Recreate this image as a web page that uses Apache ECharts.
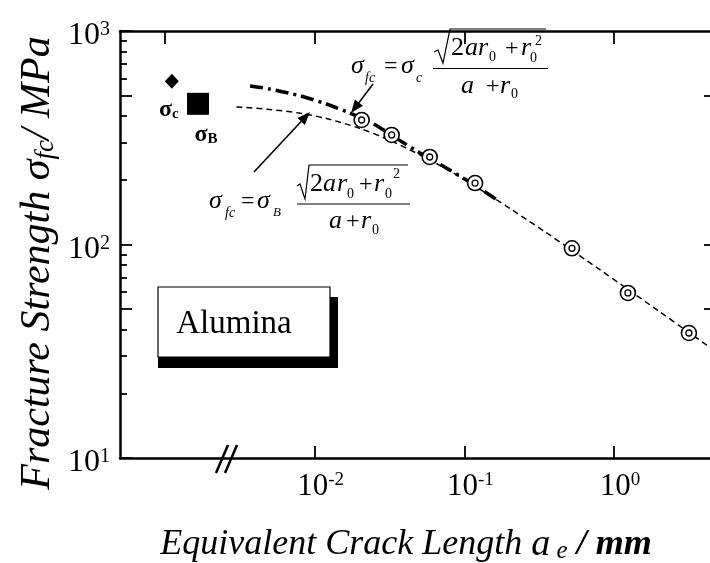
<!DOCTYPE html>
<html>
<head>
<meta charset="utf-8">
<script src="https://cdn.jsdelivr.net/npm/echarts@6/dist/echarts.min.js"></script>
<style>
html, body { margin: 0; padding: 0; background: #fff; }
#main { width: 710px; height: 563px; }
</style>
</head>
<body>
<div id="main"></div>
<script>
// measured points: equivalent crack length (mm) / fracture strength (MPa)
var crackLen = [0.0206, 0.0327, 0.0587, 0.118, 0.524, 1.24, 3.17];
var strength = [383, 326, 257, 194, 96, 59.3, 38.5];

// dashed curve (sigma_B)
var curveBLen = [0.003, 0.005, 0.008, 0.012, 0.02, 0.03, 0.05, 0.08, 0.12, 0.2, 0.35, 0.5, 0.8, 1.2, 2, 3, 4.4];
var curveBVal = [441, 429, 412, 389, 350, 313, 264, 221, 186, 148, 114, 96, 76.5, 62.6, 48.7, 39.8, 32.9];

// dash-dot curve (sigma_c)
var curveCLen = [0.0037, 0.005, 0.008, 0.012, 0.017, 0.025, 0.035, 0.05, 0.07, 0.1, 0.13, 0.17];
var curveCVal = [553, 535, 497, 455, 414, 366, 315, 270, 236, 203, 181, 160];

// intrinsic strengths, drawn left of the axis break
var sigmaC = [0.00111, 581];
var sigmaB = [0.00166, 456];

// tick values
var xLabelTicks = [0.01, 0.1, 1];
var xTopTicks = [0.001, 0.01, 0.1, 1];
var yLabelTicks = [10, 100, 1000];
var yMajorTicks = [10, 50, 100, 500, 1000];
var yMinorTicks = [20, 30, 40, 60, 70, 80, 90, 200, 300, 400, 600, 700, 800, 900];
var yRightTicks = [50, 100, 500];

var FONT = '"Liberation Serif", "Times New Roman", serif';

function pairs(xs, ys) {
    return xs.map(function (x, i) { return [x, ys[i]]; });
}

function powLabel(v) {
    return '{b|10}{s|' + Math.round(Math.log10(v)) + '}';
}

// text piece placed by its baseline
function tx(x, base, s, size, italic, weight) {
    return {
        type: 'text', x: x, y: base - size * 0.34, z: 100,
        style: {
            text: s, fontSize: size, fontFamily: FONT,
            fontStyle: italic === false ? 'normal' : 'italic',
            fontWeight: weight || 'normal',
            fill: '#000', verticalAlign: 'middle', align: 'left'
        }
    };
}

function seg(pts, w) {
    return { type: 'polyline', z: 100, shape: { points: pts }, style: { stroke: '#000', lineWidth: w || 1.2, fill: null } };
}

function arrow(x1, y1, x2, y2) {
    var dx = x2 - x1, dy = y2 - y1, L = Math.sqrt(dx * dx + dy * dy);
    var ux = dx / L, uy = dy / L, hl = 13, hw = 5;
    var bx = x2 - ux * hl, by = y2 - uy * hl;
    return [
        { type: 'line', z: 100, shape: { x1: x1, y1: y1, x2: bx, y2: by }, style: { stroke: '#000', lineWidth: 1.6 } },
        { type: 'polygon', z: 100, shape: { points: [[x2, y2], [bx - uy * hw, by + ux * hw], [bx + uy * hw, by - ux * hw]] }, style: { fill: '#000' } }
    ];
}

var graphics = [];

// formula for sigma_c (top)
graphics.push(
    tx(351, 75, 'σ', 26), tx(365, 83, 'fc', 14),
    tx(384, 75, '=', 24, false),
    tx(401, 75, 'σ', 26), tx(416, 83, 'c', 14),
    seg([[433, 68.5], [548, 68.5]]),
    seg([[434, 52], [438, 50], [443, 63], [450, 29], [546, 29]]),
    tx(451, 57, '2', 26, false), tx(465, 57, 'a', 26), tx(478, 57, 'r', 26), tx(489, 62, '0', 14, false),
    tx(505, 57, '+', 24, false), tx(521, 57, 'r', 26), tx(530, 63, '0', 14, false), tx(535, 46, '2', 14, false),
    tx(461, 95, 'a', 26), tx(486, 95, '+', 24, false), tx(500, 95, 'r', 26), tx(511, 99, '0', 14, false)
);

// formula for sigma_B (middle)
graphics.push(
    tx(209, 210, 'σ', 26), tx(225, 218, 'fc', 14),
    tx(241, 210, '=', 24, false),
    tx(257, 210, 'σ', 26), tx(273, 217, 'B', 13),
    seg([[297, 204], [410, 204]]),
    seg([[297, 186], [300, 184], [305, 199], [309, 165], [408, 165]]),
    tx(310, 193, '2', 26, false), tx(323, 193, 'a', 26), tx(337, 193, 'r', 26), tx(347, 199, '0', 14, false),
    tx(359, 193, '+', 24, false), tx(374, 193, 'r', 26), tx(385, 199, '0', 14, false), tx(393, 179, '2', 14, false),
    tx(329, 230, 'a', 26), tx(346, 230, '+', 24, false), tx(361, 230, 'r', 26), tx(372, 235, '0', 14, false)
);

graphics = graphics.concat(arrow(254, 172, 310, 112), arrow(373, 84, 351, 113));

// axis break marks
graphics.push(seg([[216, 473], [228, 445]], 2.5), seg([[225, 473], [237, 445]], 2.5));

// material box with shadow
graphics.push(
    { type: 'rect', z: 90, shape: { x: 158, y: 297, width: 180, height: 71 }, style: { fill: '#000' } },
    { type: 'rect', z: 91, shape: { x: 158, y: 287, width: 172, height: 70 }, style: { fill: '#fff', stroke: '#000', lineWidth: 1.2 } },
    { type: 'text', z: 92, x: 234, y: 324, style: { text: 'Alumina', fontSize: 33, fontFamily: FONT, fill: '#000', align: 'center', verticalAlign: 'middle' } }
);

// y axis title (rotated)
graphics.push({
    type: 'text', x: 38, y: 263, rotation: Math.PI / 2, z: 100,
    style: {
        text: '{i|Fracture Strength σ}{s|fc}{i|/ MPa}',
        align: 'center', verticalAlign: 'middle',
        rich: {
            i: { fontSize: 42, fontStyle: 'italic', fontFamily: FONT, fill: '#000' },
            s: { fontSize: 27, fontStyle: 'italic', fontFamily: FONT, fill: '#000', verticalAlign: 'bottom' }
        }
    }
});

var chart = echarts.init(document.getElementById('main'));

var tickLine = { color: '#000', width: 1.8 };

var option = {
    backgroundColor: '#fff',
    animation: false,
    grid: { left: 120, right: 0, top: 31, bottom: 105, outerBoundsMode: 'none', containLabel: false },
    xAxis: [
        {
            type: 'log', position: 'bottom', min: 0.0005, max: 4.385,
            axisLine: { lineStyle: { color: '#000', width: 2.5 } },
            axisTick: { inside: true, length: 12, lineStyle: tickLine, customValues: xLabelTicks },
            axisLabel: {
                customValues: xLabelTicks, formatter: powLabel, margin: 13, padding: [0, 0, 0, 12],
                rich: {
                    b: { fontSize: 31, fontFamily: FONT, color: '#000' },
                    s: { fontSize: 19, fontFamily: FONT, color: '#000', verticalAlign: 'top', lineHeight: 12 }
                }
            },
            splitLine: { show: false },
            name: '{i|Equivalent Crack Length }{a|a}{e| e}{m| / mm}',
            nameLocation: 'middle', nameGap: 68,
            nameTextStyle: {
                padding: [0, 18, 0, 0],
                rich: {
                    i: { fontSize: 36, fontStyle: 'italic', fontFamily: FONT, color: '#000' },
                    a: { fontSize: 38, fontStyle: 'italic', fontFamily: FONT, color: '#000' },
                    e: { fontSize: 25, fontStyle: 'italic', fontFamily: FONT, color: '#000', verticalAlign: 'bottom' },
                    m: { fontSize: 36, fontStyle: 'italic', fontWeight: 'bold', fontFamily: FONT, color: '#000' }
                }
            }
        },
        {
            type: 'log', position: 'top', min: 0.0005, max: 4.385,
            axisLine: { lineStyle: { color: '#000', width: 2.5 } },
            axisTick: { inside: true, length: 13, lineStyle: tickLine, customValues: xTopTicks },
            axisLabel: { show: false },
            splitLine: { show: false }
        }
    ],
    yAxis: [
        {
            type: 'log', position: 'left', min: 10, max: 1000,
            axisLine: { lineStyle: { color: '#000', width: 2.5 } },
            axisTick: { inside: true, length: 12, lineStyle: tickLine, customValues: yMajorTicks },
            axisLabel: {
                customValues: yLabelTicks, formatter: powLabel, margin: 10, padding: [10, 0, 0, 0],
                rich: {
                    b: { fontSize: 32, fontFamily: FONT, color: '#000' },
                    s: { fontSize: 20, fontFamily: FONT, color: '#000', verticalAlign: 'top', lineHeight: 12 }
                }
            },
            splitLine: { show: false }
        },
        {
            type: 'log', position: 'right', min: 10, max: 1000,
            axisLine: { show: false },
            axisTick: { inside: true, length: 6, lineStyle: tickLine, customValues: yRightTicks },
            axisLabel: { show: false },
            splitLine: { show: false }
        },
        {
            type: 'log', position: 'left', min: 10, max: 1000,
            axisLine: { show: false },
            axisTick: { inside: true, length: 7, lineStyle: tickLine, customValues: yMinorTicks },
            axisLabel: { show: false },
            splitLine: { show: false }
        }
    ],
    series: [
        {
            name: 'sigmaB curve', type: 'line', data: pairs(curveBLen, curveBVal),
            showSymbol: false, smooth: 0.3, z: 2,
            lineStyle: { color: '#000', width: 1.5, type: [6, 4] }
        },
        {
            name: 'sigmaC curve', type: 'line', data: pairs(curveCLen, curveCVal),
            showSymbol: false, smooth: 0.3, z: 3,
            lineStyle: { color: '#000', width: 3.5, type: [13, 5, 3, 5] }
        },
        {
            name: 'measured', type: 'scatter', data: pairs(crackLen, strength),
            symbol: 'circle', symbolSize: 15, z: 4,
            itemStyle: { color: '#fff', borderColor: '#000', borderWidth: 1.6, opacity: 1 }
        },
        {
            name: 'measured inner', type: 'scatter', data: pairs(crackLen, strength),
            symbol: 'circle', symbolSize: 6, z: 5,
            itemStyle: { color: '#fff', borderColor: '#000', borderWidth: 1.3, opacity: 1 }
        },
        {
            name: 'sigma c', type: 'scatter', data: [sigmaC],
            symbol: 'diamond', symbolSize: [14, 15], z: 5,
            itemStyle: { color: '#000', opacity: 1 },
            label: {
                show: true, position: 'bottom', distance: 9, offset: [-3, 0],
                formatter: '{s|σ}{c|c}',
                rich: {
                    s: { fontSize: 24, fontWeight: 'bold', fontFamily: FONT, color: '#000' },
                    c: { fontSize: 15, fontWeight: 'bold', fontFamily: FONT, color: '#000', verticalAlign: 'bottom' }
                }
            }
        },
        {
            name: 'sigma B', type: 'scatter', data: [sigmaB],
            symbol: 'rect', symbolSize: 22, z: 5,
            itemStyle: { color: '#000', opacity: 1 },
            label: {
                show: true, position: 'bottom', distance: 8, offset: [8, 0],
                formatter: '{s|σ}{c|B}',
                rich: {
                    s: { fontSize: 24, fontWeight: 'bold', fontFamily: FONT, color: '#000' },
                    c: { fontSize: 15, fontWeight: 'bold', fontFamily: FONT, color: '#000', verticalAlign: 'bottom' }
                }
            }
        }
    ],
    graphic: graphics
};

chart.setOption(option);
</script>
</body>
</html>
